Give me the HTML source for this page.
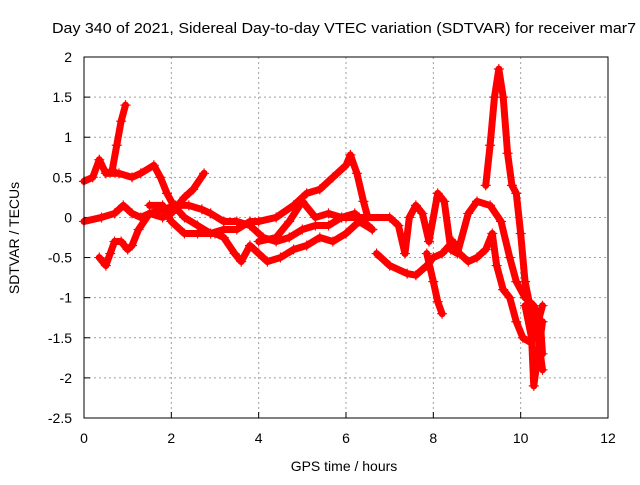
<!DOCTYPE html>
<html><head><meta charset="utf-8"><style>
body{margin:0;background:#fff;}
svg text{font-family:"Liberation Sans",sans-serif;font-size:14px;fill:#000;}
</style></head><body>
<svg width="640" height="480" id="chart">
<text x="52" y="33" textLength="584" lengthAdjust="spacingAndGlyphs" style="font-size:15px">Day 340 of 2021, Sidereal Day-to-day VTEC variation (SDTVAR) for receiver mar7</text>
<text x="344" y="471" text-anchor="middle">GPS time / hours</text>
<text transform="translate(19,238) rotate(-90)" text-anchor="middle">SDTVAR / TECUs</text>
<g id="grid"></g><g id="marks"></g>
<rect x="84" y="57" width="524" height="361" fill="none" stroke="#000"/>
</svg>
<script>
const xTicks=[0,2,4,6,8,10,12];
const yTicks=[2,1.5,1,0.5,0,-0.5,-1,-1.5,-2,-2.5];
const yTickLabels=["2","1.5","1","0.5","0","-0.5","-1","-1.5","-2","-2.5"];
const track1=[[0,0.45],[0.2,0.5],[0.35,0.72],[0.5,0.55],[0.8,0.55],[1.1,0.5],[1.3,0.55],[1.6,0.65],[1.75,0.5],[1.9,0.3],[2.05,0.15],[2.3,0.0],[2.6,-0.1],[2.9,-0.2],[3.2,-0.15],[3.5,-0.15],[3.8,-0.05],[4.0,-0.05],[4.4,0.0],[4.8,0.15],[5.1,0.3],[5.4,0.35],[5.7,0.5],[6.0,0.65],[6.1,0.78],[6.25,0.55],[6.4,0.2],[6.5,0.0]];
const track2=[[0,-0.05],[0.4,0.0],[0.7,0.05],[0.9,0.15],[1.1,0.05],[1.3,0.0],[1.5,0.05],[1.8,0.1],[2.1,0.15],[2.4,0.15],[2.7,0.1],[2.9,0.05],[3.2,-0.05],[3.5,-0.05],[3.8,-0.1],[4.1,-0.25],[4.4,-0.3],[4.7,-0.25],[5.0,-0.15],[5.3,-0.1],[5.6,-0.1],[5.9,0.0],[6.3,0.0],[6.6,-0.15]];
const track3=[[0.35,-0.5],[0.5,-0.6],[0.6,-0.45],[0.7,-0.3],[0.85,-0.3],[1.0,-0.4],[1.1,-0.35],[1.25,-0.15],[1.5,0.05],[1.8,0.0],[2.0,0.05],[2.3,0.25],[2.5,0.35],[2.75,0.55]];
const track4=[[1.5,0.15],[1.8,0.15],[2.0,-0.05],[2.3,-0.2],[2.6,-0.2],[3.0,-0.2],[3.2,-0.25],[3.45,-0.45],[3.6,-0.55],[3.8,-0.35],[4.0,-0.45],[4.2,-0.55],[4.5,-0.5],[4.8,-0.4],[5.1,-0.35],[5.4,-0.25],[5.7,-0.3],[6.0,-0.2],[6.3,-0.05],[6.6,-0.15]];
const track5=[[0.65,0.6],[0.75,0.9],[0.85,1.2],[0.95,1.4]];
const track6=[[4.0,-0.3],[4.4,-0.25],[4.7,-0.05],[5.0,0.2],[5.3,0.0],[5.6,0.05],[5.9,0.0],[6.2,0.05],[6.6,-0.15]];
const track7=[[6.0,0.0],[6.5,0.0],[7.0,0.0],[7.2,-0.1],[7.35,-0.45],[7.45,0.0],[7.6,0.15],[7.75,0.05],[7.9,-0.3],[8.1,0.3],[8.25,0.2],[8.4,-0.4],[8.55,-0.45],[8.8,0.05],[9.0,0.2],[9.3,0.15],[9.55,-0.05],[9.75,-0.5],[9.9,-0.8],[10.1,-1.0],[10.3,-1.1],[10.45,-1.3],[10.5,-1.7]];
const track8=[[6.7,-0.45],[7.0,-0.6],[7.4,-0.7],[7.6,-0.72],[7.85,-0.6],[8.0,-0.5],[8.2,-0.45],[8.45,-0.3],[8.6,-0.45],[8.8,-0.55],[9.0,-0.5],[9.2,-0.4],[9.35,-0.2],[9.45,-0.6],[9.6,-0.9],[9.75,-1.0],[9.9,-1.3],[10.05,-1.5],[10.2,-1.55],[10.4,-1.3],[10.5,-1.1]];
const track9=[[7.85,-0.45],[8.0,-0.8],[8.1,-1.05],[8.2,-1.2]];
const track10=[[9.2,0.4],[9.3,0.9],[9.4,1.5],[9.5,1.85],[9.6,1.5],[9.7,0.8],[9.8,0.4],[9.9,0.3],[10.0,-0.2],[10.1,-0.8],[10.25,-1.2],[10.4,-1.5],[10.5,-1.9]];
const track11=[[10.1,-1.1],[10.25,-1.5],[10.3,-2.1],[10.4,-1.7],[10.5,-1.3]];
const tracks=[track1,track2,track3,track4,track5,track6,track7,track8,track9,track10,track11];
const X=t=>84+t*524/12, Y=v=>57+(2-v)*361/4.5;
const NS="http://www.w3.org/2000/svg";
const g=document.getElementById('grid'), m=document.getElementById('marks'), svg=document.getElementById('chart');
function mk(tag,at,par){const e=document.createElementNS(NS,tag);for(const k in at)e.setAttribute(k,at[k]);par.appendChild(e);return e;}
xTicks.forEach(t=>{
 if(t>0&&t<12){const l=mk('line',{x1:X(t),x2:X(t),y1:57,y2:418,stroke:'#a0a0a0','stroke-dasharray':'2,3'},g);
 
 }
 const tk=mk('line',{x1:X(t),x2:X(t),y1:418,y2:412,stroke:'#000'},g);
 
 
 const tx=mk('text',{x:X(t),y:443,'text-anchor':'middle'},svg);tx.textContent=t;
 
 
});
yTicks.forEach((v,i)=>{
 if(i>0&&i<yTicks.length-1){const l=mk('line',{x1:84,x2:608,y1:Y(v),y2:Y(v),stroke:'#a0a0a0','stroke-dasharray':'2,3'},g);
 
 }
 const tk=mk('line',{x1:84,x2:90,y1:Y(v),y2:Y(v),stroke:'#000'},g);
 
 
 const tx=mk('text',{x:72,y:Y(v)+5,'text-anchor':'end'},svg);tx.textContent=yTickLabels[i];
 
 
});
tracks.forEach((tr,i)=>{
 const pl=mk('polyline',{points:tr.map(p=>X(p[0])+','+Y(p[1])).join(' '),fill:'none',stroke:'#ff0000','stroke-width':7,'stroke-linejoin':'round','stroke-linecap':'round'},m);
 
 
 tr.forEach(p=>{const x=X(p[0]),y=Y(p[1]);
  const c=mk('path',{d:`M${x-5},${y}H${x+5}M${x},${y-5}V${y+5}`,stroke:'#ff0000','stroke-width':1.2},m);
  
  });
});
</script>
</body></html>
